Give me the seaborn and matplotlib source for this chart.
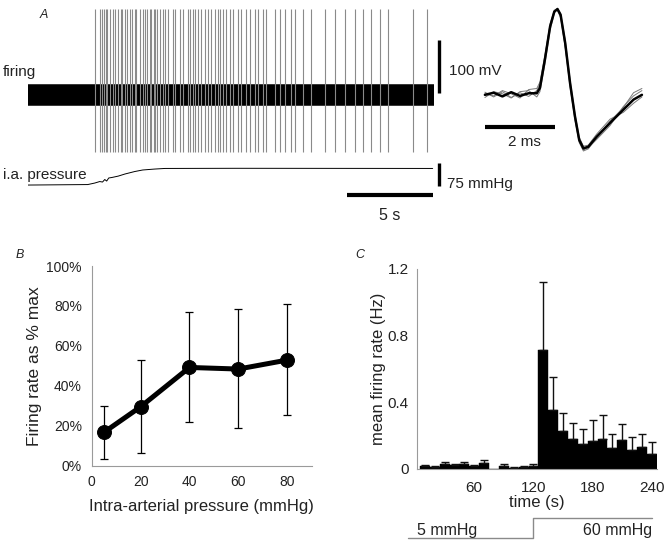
import numpy as np
import pandas as pd
import seaborn as sns
import matplotlib.pyplot as plt

# ---------------- Panel A: registro ----------------
spike_times = [3.88, 4.13, 4.29, 4.38, 4.48, 4.58, 4.71, 4.90, 5.04, 5.19, 5.35, 5.44,
               5.58, 5.73, 5.87, 6.02, 6.15, 6.25, 6.44, 6.63, 6.77, 6.88, 7.02, 7.12,
               7.25, 7.35, 7.46, 7.60, 7.79, 7.92, 8.08, 8.37, 8.46, 8.75, 8.94, 9.23,
               9.33, 9.52, 9.62, 9.81, 10.00, 10.19, 10.38, 10.58, 10.77, 10.96, 11.06,
               11.25, 11.44, 11.63, 11.83, 12.12, 12.31, 12.60, 12.79, 13.08, 13.27,
               13.56, 13.75, 14.23, 14.52, 14.81, 15.19, 15.38, 15.87, 16.35, 17.12,
               17.69, 18.27, 18.85, 19.33, 19.81, 20.29, 20.77, 22.21, 23.04]
spike_top_mv = 162
spike_bottom_mv = -108
noise_mv = 19
trace_end_s = 23.4

pressure_t = [0, 3.45, 3.85, 4.14, 4.30, 4.43, 4.54, 4.66, 4.83, 5.20, 5.60, 6.16,
              6.62, 7.30, 7.90, 12.0, 23.35]
pressure_mmhg = [5, 6.6, 11.5, 16.4, 14.8, 23, 18, 28, 29.5, 34, 41, 49, 54, 57, 59,
                 59.5, 59]

wave_t = [0, 0.25, 0.5, 0.75, 1.0, 1.25, 1.48, 1.57, 1.71, 1.86, 1.98, 2.07, 2.16,
          2.29, 2.43, 2.57, 2.69, 2.81, 2.95, 3.19, 3.57, 3.95, 4.24, 4.48]
wave_main = [0, 4, -3, 5, -2, 3, 3, 13, 66, 129, 157, 162, 151, 98, 22, -41, -85,
             -101, -98, -79, -53, -28, -9, 0]
wave_gray1 = [5, -4, 6, -5, 4, -3, 8, 20, 72, 132, 158, 160, 148, 92, 18, -45, -88,
              -104, -100, -84, -58, -22, -2, 8]
wave_gray2 = [-5, 6, 2, -6, 6, 8, -4, 6, 58, 122, 154, 163, 154, 104, 28, -36, -80,
              -97, -95, -74, -46, -33, -16, -4]
wave_gray3 = [2, -2, 8, 2, -6, 10, 12, 24, 74, 134, 160, 159, 146, 90, 14, -48, -90,
              -106, -102, -80, -50, -24, 4, 12]

# ---------------- Panel B ----------------
pressure_levels = [5, 20, 40, 60, 80]
rate_pct = [16.7, 29.5, 49.2, 48.4, 52.9]
rate_err_low = [13.4, 23.0, 27.5, 29.7, 27.5]
rate_err_high = [13.3, 23.4, 27.9, 30.1, 27.9]

# ---------------- Panel C ----------------
bin_time = [10, 20, 30, 40, 50, 60, 70, 80, 90, 100, 110, 120,
            130, 140, 150, 160, 170, 180, 190, 200, 210, 220, 230, 240]
mean_rate = [0.015, 0.01, 0.025, 0.02, 0.025, 0.015, 0.035, 0, 0.015, 0.005, 0.01, 0.015,
             0.71, 0.35, 0.227, 0.177, 0.15, 0.165, 0.18, 0.126, 0.169, 0.11, 0.13, 0.088]
rate_sem = [0.005, 0.003, 0.015, 0.005, 0.012, 0.005, 0.015, 0, 0.01, 0.003, 0.003, 0.01,
            0.414, 0.2, 0.108, 0.094, 0.087, 0.124, 0.139, 0.079, 0.1, 0.08, 0.08, 0.069]
step_t = [-7, 120, 120, 240]
step_mmhg = [5, 5, 60, 60]

W, H = 666, 544
sns.set_style("white")
plt.rcParams['font.family'] = ['Liberation Sans', 'DejaVu Sans']
TXT = '#222222'
AXC = '#9a9a9a'


def caja(x0, y0, x1, y1):
    return [x0 / W, 1 - y1 / H, (x1 - x0) / W, (y1 - y0) / H]


def texto(fig, x, y, s, **kw):
    fig.text(x / W, 1 - y / H, s, color=TXT, **kw)


fig = plt.figure(figsize=(W / 100, H / 100), dpi=100)

# --- A: disparos ---
axf = fig.add_axes(caja(28, 0, 445, 165))
axf.set_xlim(0, (445 - 28) / 17.33)
axf.set_ylim(-132, 179)
axf.vlines(spike_times, spike_bottom_mv, spike_top_mv, color='#8a8a8a', lw=0.8)
axf.fill_between([0, trace_end_s], [-noise_mv - 2] * 2, [noise_mv + 2] * 2, color='#3a3a3a', lw=0)
axf.fill_between([0, trace_end_s], [-noise_mv + 1] * 2, [noise_mv - 1] * 2, color='black', lw=0)
axf.plot([23.73, 23.73], [4, 104], color='black', lw=2.4, solid_capstyle='butt')
axf.axis('off')

# --- A: presion ---
axp = fig.add_axes(caja(28, 160, 445, 225))
axp.set_xlim(0, (445 - 28) / 17.33)
axp.set_ylim(-125, 86.5)
axp.plot(pressure_t, pressure_mmhg, color='black', lw=0.7)
axp.plot([23.73, 23.73], [1.7, 76.7], color='black', lw=2.4, solid_capstyle='butt')
axp.plot([18.39, 23.39], [-27.6, -27.6], color='black', lw=3.0, solid_capstyle='butt')
axp.axis('off')

# --- A: forma de onda ---
axw = fig.add_axes(caja(480, 0, 650, 160))
axw.set_xlim(-0.14, 4.71)
axw.set_ylim(-123, 179)
for g in [wave_gray1, wave_gray2, wave_gray3]:
    axw.plot(wave_t, g, color='#777777', lw=0.7)
axw.plot(wave_t, wave_main, color='black', lw=1.8)
axw.plot([0, 2], [-61, -61], color='black', lw=3.0, solid_capstyle='butt')
axw.axis('off')

texto(fig, 44, 15, 'A', fontsize=9, style='italic', ha='center', va='center')
texto(fig, 3, 72, 'firing', fontsize=11, ha='left', va='center')
texto(fig, 3, 175.5, 'i.a. pressure', fontsize=11, ha='left', va='center')
texto(fig, 449, 71, '100 mV', fontsize=11, ha='left', va='center')
texto(fig, 447, 184, '75 mmHg', fontsize=11, ha='left', va='center')
texto(fig, 390, 215, '5 s', fontsize=11.5, ha='center', va='center')
texto(fig, 524, 142, '2 ms', fontsize=11, ha='center', va='center')

# --- B ---
axb = fig.add_axes(caja(91.7, 266, 311.7, 465.7))
axb.errorbar(pressure_levels, rate_pct, yerr=[rate_err_low, rate_err_high], fmt='none',
             ecolor='black', elinewidth=0.9, capsize=3, capthick=0.9, zorder=1)
sns.lineplot(x=pressure_levels, y=rate_pct, color='black', lw=3.6, marker='o',
             markersize=10, mec='black', mfc='black', ax=axb, zorder=3)
axb.set_xlim(0, 90)
axb.set_ylim(0, 100)
axb.set_xticks([0, 20, 40, 60, 80])
axb.set_yticks([0, 20, 40, 60, 80, 100])
axb.set_yticklabels([f'{v}%' for v in [0, 20, 40, 60, 80, 100]])
axb.set_xlabel('Intra-arterial pressure (mmHg)', fontsize=12, color=TXT, labelpad=7)
axb.set_ylabel('Firing rate as % max', fontsize=12.5, color=TXT, labelpad=3)
axb.tick_params(axis='y', length=3, color=AXC, pad=4, labelsize=10, labelcolor=TXT)
axb.tick_params(axis='x', length=0, pad=7, labelsize=10, labelcolor=TXT)
sns.despine(ax=axb)
for s in ['left', 'bottom']:
    axb.spines[s].set_color(AXC)
    axb.spines[s].set_linewidth(0.8)
texto(fig, 20, 255, 'B', fontsize=9, style='italic', ha='center', va='center')

# --- C ---
axc = fig.add_axes(caja(417, 269, 657.3, 468.5))
sns.barplot(x=bin_time, y=mean_rate, native_scale=True, width=1, color='black',
            saturation=1, edgecolor='black', linewidth=0.3, errorbar=None, ax=axc)
mask = [s > 0 for s in rate_sem]
et = [t for t, m in zip(bin_time, mask) if m]
ev = [v for v, m in zip(mean_rate, mask) if m]
es = [s for s, m in zip(rate_sem, mask) if m]
axc.errorbar(et, ev, yerr=[[0] * len(es), es], fmt='none', ecolor='#111111',
             elinewidth=1.0, capsize=3.2, capthick=1.0)
axc.set_xlim(2, 245.5)
axc.set_ylim(0, 1.2)
axc.set_xticks([60, 120, 180, 240])
axc.set_xticklabels(['60', '120', '180', '240'])
axc.set_xticks(bin_time, minor=True)
axc.set_yticks([0, 0.4, 0.8, 1.2])
axc.set_yticklabels(['0', '0.4', '0.8', '1.2'])
axc.set_xlabel('time (s)', fontsize=12, color=TXT, labelpad=0)
axc.set_ylabel('mean firing rate (Hz)', fontsize=12, color=TXT, labelpad=1)
axc.tick_params(axis='y', length=3, color=AXC, pad=3, labelsize=11, labelcolor=TXT)
axc.tick_params(axis='x', which='both', length=3, color=AXC, pad=6, labelsize=11,
                labelcolor=TXT)
sns.despine(ax=axc)
for s in ['left', 'bottom']:
    axc.spines[s].set_color(AXC)
    axc.spines[s].set_linewidth(0.8)
texto(fig, 360, 255, 'C', fontsize=9, style='italic', ha='center', va='center')

# --- C: escalon de presion ---
axs = fig.add_axes(caja(405, 505, 660, 544))
axs.set_xlim(-10.0, 248.3)
axs.set_ylim(-11.8, 97)
axs.plot(step_t, step_mmhg, color='#8a8a8a', lw=1.0)
axs.text(1.8, 24.5, '5 mmHg', fontsize=11.5, color=TXT, ha='left', va='center')
axs.text(240, 24.5, '60 mmHg', fontsize=11.5, color=TXT, ha='right', va='center')
axs.axis('off')

fig.savefig('out.png', dpi=100)
